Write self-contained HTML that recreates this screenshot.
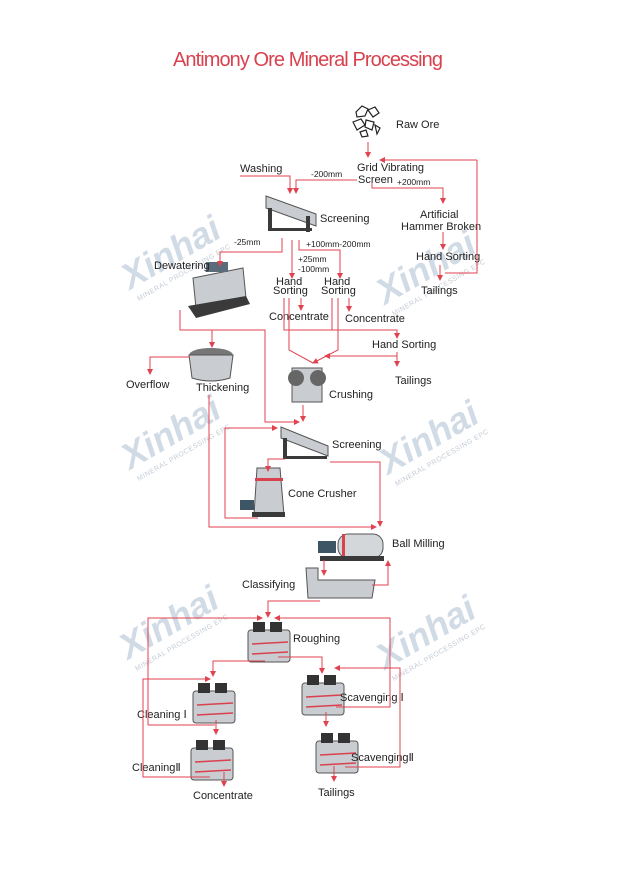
<!DOCTYPE html>
<html><head><meta charset="utf-8"><style>
html,body{margin:0;padding:0;background:#fff;}
svg{display:block;}
text{font-family:"Liberation Sans",sans-serif;}
.l{font-size:11px;fill:#222;}
.s{font-size:8.5px;fill:#222;}
.wm{font-size:36px;font-weight:bold;font-style:italic;fill:#b3c4d6;opacity:.6;}
.wm2{font-size:7px;fill:#c3ccd6;letter-spacing:.5px;}
.r{stroke:#e0424f;stroke-width:1;fill:none;}
.m{fill:#c9ccd0;stroke:#555;stroke-width:1;}
.d{fill:#3a3a3a;}
</style></head><body>
<svg width="618" height="876" viewBox="0 0 618 876" xmlns="http://www.w3.org/2000/svg">
<defs><marker id="a" markerWidth="6" markerHeight="6" refX="5" refY="3" orient="auto"><path d="M0,0 L6,3 L0,6 z" fill="#e0424f"/></marker>
<g id="cell"><rect class="m" x="0" y="8" width="42" height="32" rx="3"/><rect x="5" y="0" width="12" height="10" fill="#333"/><rect x="22" y="0" width="12" height="10" fill="#333"/><line x1="4" y1="22" x2="40" y2="20" stroke="#d9414e" stroke-width="1.5"/><line x1="4" y1="32" x2="40" y2="30" stroke="#d9414e" stroke-width="1.5"/></g>
</defs>
<rect width="618" height="876" fill="#fff"/>
<!-- watermarks -->
<g transform="translate(130,290) rotate(-30)"><text class="wm" x="0" y="0">Xinhai</text><text class="wm2" x="2" y="14">MINERAL PROCESSING EPC</text></g>
<g transform="translate(385,305) rotate(-30)"><text class="wm" x="0" y="0">Xinhai</text><text class="wm2" x="2" y="14">MINERAL PROCESSING EPC</text></g>
<g transform="translate(130,470) rotate(-30)"><text class="wm" x="0" y="0">Xinhai</text><text class="wm2" x="2" y="14">MINERAL PROCESSING EPC</text></g>
<g transform="translate(388,475) rotate(-30)"><text class="wm" x="0" y="0">Xinhai</text><text class="wm2" x="2" y="14">MINERAL PROCESSING EPC</text></g>
<g transform="translate(128,660) rotate(-30)"><text class="wm" x="0" y="0">Xinhai</text><text class="wm2" x="2" y="14">MINERAL PROCESSING EPC</text></g>
<g transform="translate(385,670) rotate(-30)"><text class="wm" x="0" y="0">Xinhai</text><text class="wm2" x="2" y="14">MINERAL PROCESSING EPC</text></g>

<text x="308" y="66" text-anchor="middle" font-size="20" fill="#d9414e" textLength="270">Antimony Ore Mineral Processing</text>

<!-- raw ore -->
<g stroke="#222" fill="none" stroke-width="1.2"><path d="M356,112 l6,-6 6,3 -3,7 -8,1z"/><path d="M368,110 l7,-3 4,6 -6,4z"/><path d="M353,122 l8,-3 4,6 -8,5z"/><path d="M366,120 l8,2 -2,8 -7,-3z"/><path d="M360,132 l6,-2 2,6 -6,1z"/><path d="M375,125 l5,3 -3,6z"/></g>
<text class="l" x="396" y="128">Raw Ore</text>

<!-- machines -->
<g><path class="m" d="M266,196 L316,214 L316,226 L266,208z"/><rect class="d" x="268" y="208" width="4" height="22"/><rect class="d" x="306" y="216" width="4" height="16"/><rect class="d" x="268" y="228" width="44" height="3"/></g>
<g><path class="m" d="M193,278 L243,268 L246,298 L196,308z"/><rect x="206" y="262" width="22" height="10" fill="#5a6b7a"/><path class="d" d="M188,306 L246,296 L250,304 L196,318z"/></g>
<g><ellipse cx="211" cy="355" rx="22" ry="7" fill="#777"/><path class="m" d="M189,355 L233,355 L230,378 Q211,384 192,378z"/></g>
<g><rect class="m" x="292" y="368" width="30" height="34"/><circle cx="296" cy="378" r="8" fill="#666"/><circle cx="318" cy="378" r="8" fill="#666"/></g>
<g><path class="m" d="M281,427 L328,446 L328,456 L281,438z"/><rect class="d" x="283" y="438" width="4" height="20"/><rect class="d" x="283" y="456" width="44" height="3"/></g>
<g><path class="m" d="M257,468 L280,468 L284,515 L254,515z"/><rect x="255" y="478" width="28" height="3" fill="#d9414e"/><rect x="240" y="500" width="14" height="10" fill="#3e5566"/><rect class="d" x="252" y="512" width="33" height="5"/></g>
<g><rect x="338" y="534" width="45" height="24" rx="10" fill="#d4d7da" stroke="#555"/><rect x="342" y="534" width="3" height="24" fill="#d9414e"/><rect x="318" y="541" width="18" height="12" fill="#3e5566"/><rect class="d" x="320" y="556" width="64" height="5"/></g>
<g><path class="m" d="M306,568 L318,568 L318,580 L375,580 L372,598 L308,598z"/></g>
<use href="#cell" transform="translate(248,622)"/>
<use href="#cell" transform="translate(193,683)"/>
<use href="#cell" transform="translate(191,740)"/>
<use href="#cell" transform="translate(302,675)"/>
<use href="#cell" transform="translate(316,733)"/>

<!-- labels -->
<text class="l" x="357" y="171">Grid Vibrating</text>
<text class="l" x="358" y="183">Screen</text>
<text class="l" x="240" y="172">Washing</text>
<text class="s" x="311" y="177">-200mm</text>
<text class="s" x="397" y="185">+200mm</text>
<text class="l" x="420" y="218">Artificial</text>
<text class="l" x="401" y="230">Hammer Broken</text>
<text class="l" x="416" y="260">Hand Sorting</text>
<text class="l" x="421" y="294">Tailings</text>
<text class="l" x="320" y="222">Screening</text>
<text class="s" x="234" y="245">-25mm</text>
<text class="s" x="306" y="247">+100mm-200mm</text>
<text class="s" x="298" y="262">+25mm</text>
<text class="s" x="298" y="272">-100mm</text>
<text class="l" x="154" y="269">Dewatering</text>
<text class="l" x="276" y="285">Hand</text><text class="l" x="273" y="294">Sorting</text>
<text class="l" x="324" y="285">Hand</text><text class="l" x="321" y="294">Sorting</text>
<text class="l" x="269" y="320">Concentrate</text>
<text class="l" x="345" y="322">Concentrate</text>
<text class="l" x="372" y="348">Hand Sorting</text>
<text class="l" x="395" y="384">Tailings</text>
<text class="l" x="126" y="388">Overflow</text>
<text class="l" x="196" y="391">Thickening</text>
<text class="l" x="329" y="398">Crushing</text>
<text class="l" x="332" y="448">Screening</text>
<text class="l" x="288" y="497">Cone Crusher</text>
<text class="l" x="392" y="547">Ball Milling</text>
<text class="l" x="242" y="588">Classifying</text>
<text class="l" x="293" y="642">Roughing</text>
<text class="l" x="340" y="701">Scavenging Ⅰ</text>
<text class="l" x="137" y="718">Cleaning Ⅰ</text>
<text class="l" x="132" y="771">CleaningⅡ</text>
<text class="l" x="351" y="761">ScavengingⅡ</text>
<text class="l" x="193" y="799">Concentrate</text>
<text class="l" x="318" y="796">Tailings</text>

<!-- connectors -->
<g class="r">
<path d="M368,142 V157" marker-end="url(#a)"/>
<path d="M477,160 H380" marker-end="url(#a)"/>
<path d="M477,160 V273 H445"/>
<path d="M357,180 H296 V193" marker-end="url(#a)"/>
<path d="M240,176 H290 V193" marker-end="url(#a)"/>
<path d="M372,183 V188 H443 V203" marker-end="url(#a)"/>
<path d="M443,232 V249" marker-end="url(#a)"/>
<path d="M440,265 V280" marker-end="url(#a)"/>
<path d="M282,238 V252 H220 V266" marker-end="url(#a)"/>
<path d="M292,240 V278" marker-end="url(#a)"/>
<path d="M299,240 V250 H340 V278" marker-end="url(#a)"/>
<path d="M301,298 V310" marker-end="url(#a)"/>
<path d="M349,298 V311" marker-end="url(#a)"/>
<path d="M284,298 V330 H397 V338" marker-end="url(#a)"/>
<path d="M332,298 V330"/>
<path d="M289,298 V350 L313,363"/>
<path d="M338,298 V350 L313,363" marker-end="url(#a)"/>
<path d="M397,352 V366" marker-end="url(#a)"/>
<path d="M397,356 H325" marker-end="url(#a)"/>
<path d="M180,310 V330 H265 V422 H299" marker-end="url(#a)"/>
<path d="M212,330 V347" marker-end="url(#a)"/>
<path d="M190,357 H150 V374" marker-end="url(#a)"/>
<path d="M209,395 V527 H376" marker-end="url(#a)"/>
<path d="M303,405 V421" marker-end="url(#a)"/>
<path d="M330,462 H380 V526" marker-end="url(#a)"/>
<path d="M285,459 H268 V471" marker-end="url(#a)"/>
<path d="M258,518 H225 V428 H277" marker-end="url(#a)"/>
<path d="M324,560 V575" marker-end="url(#a)"/>
<path d="M372,585 H388 V561" marker-end="url(#a)"/>
<path d="M320,601 H268 V617" marker-end="url(#a)"/>
<path d="M148,725 V618 H262" marker-end="url(#a)"/>
<path d="M215,725 H148"/>
<path d="M336,707 H390 V618 H275" marker-end="url(#a)"/>
<path d="M265,661 H213 V676" marker-end="url(#a)"/>
<path d="M278,657 H322 V673" marker-end="url(#a)"/>
<path d="M210,777 H143 V679 H210" marker-end="url(#a)"/>
<path d="M216,720 V734" marker-end="url(#a)"/>
<path d="M224,772 V786" marker-end="url(#a)"/>
<path d="M345,767 H400 V668 H335" marker-end="url(#a)"/>
<path d="M326,712 V726" marker-end="url(#a)"/>
<path d="M334,766 V781" marker-end="url(#a)"/>
</g>
</svg>
</body></html>
